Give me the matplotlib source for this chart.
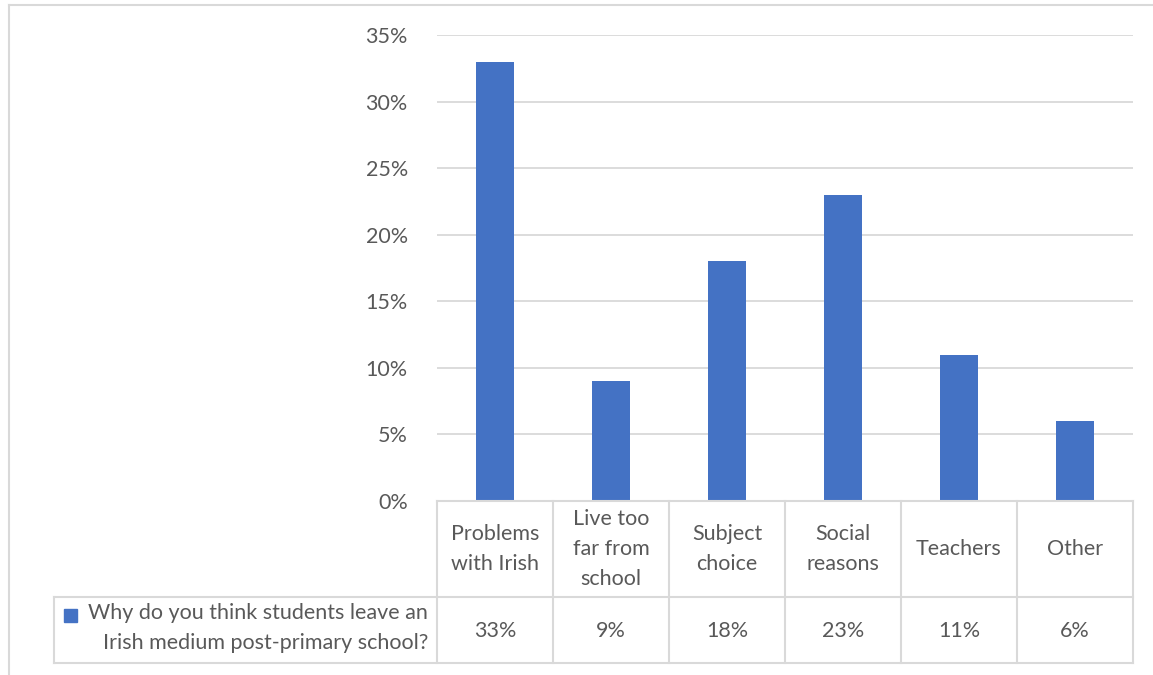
import matplotlib.pyplot as plt
from matplotlib.patches import Rectangle

plt.rcParams['font.family'] = ['Lato', 'DejaVu Sans']

categories = ["Problems\nwith Irish", "Live too\nfar from\nschool", "Subject\nchoice",
              "Social\nreasons", "Teachers", "Other"]
values = [33, 9, 18, 23, 11, 6]
yticks = [0, 5, 10, 15, 20, 25, 30, 35]
series_name = "Why do you think students leave an\nIrish medium post-primary school?"

W, H = 1153, 675
blue = "#4472C4"
grid = "#D9D9D9"
txt = "#595959"
fs = 15.5

fig = plt.figure(figsize=(W / 100, H / 100), dpi=100)

def px_axes(x0, y0, x1, y1):
    # pixel box (top-left origin) -> figure axes
    return fig.add_axes([x0 / W, 1 - y1 / H, (x1 - x0) / W, (y1 - y0) / H])

# outer chart border
border = px_axes(0, 0, W, H)
border.set_xlim(0, W)
border.set_ylim(H, 0)
border.axis("off")
border.plot([9, 9], [5, H], color=grid, lw=1.5)
border.plot([9, W], [5, 5], color=grid, lw=1.5)

# bars
ax = px_axes(437, 35, 1133, 501)
x = list(range(len(values)))
ax.bar(x, values, width=0.32, color=blue, zorder=3)
ax.set_xlim(-0.5, len(values) - 0.5)
ax.set_ylim(0, 35)
ax.set_yticks(yticks)
ax.set_yticklabels([f"{t}%" for t in yticks], fontsize=fs, color=txt)
ax.tick_params(axis="y", length=0, pad=21)
ax.set_xticks([])
ax.grid(axis="y", color=grid, lw=1.3, zorder=0)
for s in ax.spines.values():
    s.set_visible(False)

# data table
tb = px_axes(0, 0, W, H)
tb.set_xlim(0, W)
tb.set_ylim(H, 0)
tb.axis("off")
col_w = (1133 - 437) / len(categories)
edges = [437 + i * col_w for i in range(len(categories) + 1)]
lc = dict(color=grid, lw=1.5)
tb.plot([437, 1133], [501, 501], **lc)
tb.plot([54, 1133], [597, 597], **lc)
tb.plot([54, 1133], [663, 663], **lc)
tb.plot([54, 54], [597, 663], **lc)
for e in edges:
    tb.plot([e, e], [501, 663], **lc)
for i, (c, v) in enumerate(zip(categories, values)):
    cx = (edges[i] + edges[i + 1]) / 2
    tb.text(cx, 549, c, ha="center", va="center", fontsize=fs, color=txt, linespacing=1.6)
    tb.text(cx, 631, f"{v}%", ha="center", va="center", fontsize=fs, color=txt)

tb.add_patch(Rectangle((64, 609), 13, 13, color=blue))
tb.text(428, 628, series_name, ha="right", va="center", fontsize=fs, color=txt,
        linespacing=1.6)

fig.savefig("out.png", dpi=100)
